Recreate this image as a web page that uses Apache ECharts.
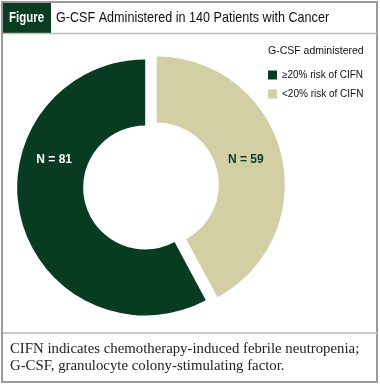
<!DOCTYPE html>
<html>
<head>
<meta charset="utf-8">
<script src="https://cdn.jsdelivr.net/npm/echarts@6/dist/echarts.min.js"></script>
<style>
html,body{margin:0;padding:0;background:#fff;}
#chart{width:380px;height:385px;}
</style>
</head>
<body>
<div id="chart"></div>
<script>
// Data
const categories = ['<20% risk of CIFN', '≥20% risk of CIFN'];
const values = [59, 81];
const labelTexts = ['N = 59', 'N = 81'];
const legendOrder = ['≥20% risk of CIFN', '<20% risk of CIFN'];
const figureTag = 'Figure';
const titleText = 'G-CSF Administered in 140 Patients with Cancer';
const legendTitle = 'G-CSF administered';
const footnoteText = 'CIFN indicates chemotherapy-induced febrile neutropenia;\nG-CSF, granulocyte colony-stimulating factor.';

const DARK = '#073b22';
const TAN = '#d3cfa5';
const colors = [TAN, DARK];
const labelColors = [DARK, '#ffffff'];
const labelShiftUp = [2, 104];
const labelFormats = [
  (t) => '{a|' + t + '}{c|}\n{b|}',
  (t) => '{c|}{a|' + t + '}\n{b|}'
];
const labelPadW = [12, 8];
const sans = '"Liberation Sans",Arial,sans-serif';

const chart = echarts.init(document.getElementById('chart'), null, {renderer: 'canvas'});

const pieData = categories.map((c, i) => ({
  name: c,
  value: values[i],
  selected: true,
  itemStyle: {color: colors[i]},
  label: {
    formatter: labelFormats[i](labelTexts[i]),
    rich: {
      a: {color: labelColors[i], fontFamily: sans, fontSize: 12, fontWeight: 'bold', height: 14},
      b: {height: labelShiftUp[i]},
      c: {width: labelPadW[i], height: 14}
    }
  }
}));

chart.setOption({
  animation: false,
  backgroundColor: '#ffffff',
  title: [
    {
      text: legendTitle, left: 263, top: 41,
      textStyle: {fontFamily: sans, fontSize: 10.5, fontWeight: 'normal', color: '#111'}
    }
  ],
  legend: {
    data: legendOrder,
    orient: 'vertical',
    left: 263, top: 65,
    icon: 'rect',
    itemWidth: 9, itemHeight: 9, itemGap: 9,
    textStyle: {fontFamily: sans, fontSize: 10, color: '#111'},
    selectedMode: false
  },
  graphic: [
    {type: 'rect', shape: {x: 2, y: 2, width: 375, height: 380}, style: {fill: 'none', stroke: '#9a9a9a', lineWidth: 2}, z: 0},
    {type: 'rect', shape: {x: 3, y: 3, width: 48, height: 30}, style: {fill: '#0a3d22'}, z: 1},
    {type: 'text', x: 9, y: 18, scaleX: 0.82, style: {text: figureTag, fill: '#fff', font: 'bold 14px ' + sans, verticalAlign: 'middle'}, z: 2},
    {type: 'text', x: 56, y: 18, scaleX: 0.84, style: {text: titleText, fill: '#111', font: '15px ' + sans, verticalAlign: 'middle'}, z: 2},
    {type: 'line', shape: {x1: 3, y1: 33.5, x2: 377, y2: 33.5}, style: {stroke: '#bdbdbd', lineWidth: 1.5}, z: 1},
    {type: 'line', shape: {x1: 3, y1: 333, x2: 377, y2: 333}, style: {stroke: '#c8c8c8', lineWidth: 2}, z: 1},
    {type: 'text', x: 10, y: 341, style: {text: footnoteText, fill: '#222', font: '14.8px "Liberation Serif","DejaVu Serif",serif', lineHeight: 17}, z: 2}
  ],
  series: [{
    type: 'pie',
    center: [151, 186],
    radius: [62, 128],
    startAngle: 90,
    clockwise: true,
    selectedMode: 'multiple',
    selectedOffset: 6,
    silent: true,
    emphasis: {disabled: true},
    label: {
      show: true,
      position: 'inside'
    },
    labelLine: {show: false},
    data: pieData
  }]
});
</script>
</body>
</html>
